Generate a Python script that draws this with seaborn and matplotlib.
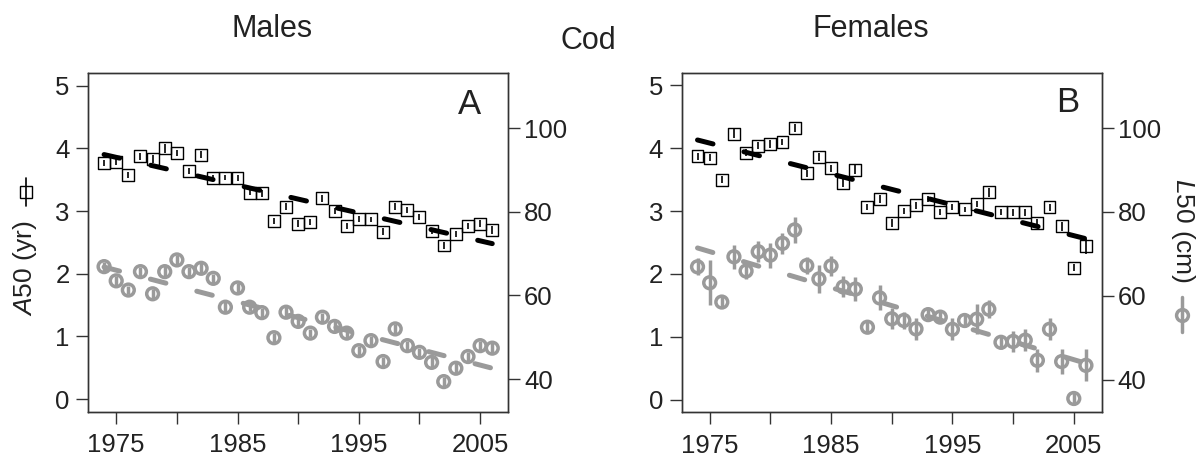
#Cod maturation reaction norm midpoints, males vs females (A50 and L50 by year)

import pandas as pd
import matplotlib
matplotlib.use("Agg")
import matplotlib.pyplot as plt
import seaborn as sns
from matplotlib.lines import Line2D

years = list(range(1974, 2007))

# males, panel A
male_a50 = [3.76, 3.78, 3.57, 3.87, 3.83, 4.00, 3.92, 3.64, 3.90, 3.53,
            3.53, 3.53, 3.29, 3.28, 2.84, 3.07, 2.80, 2.83, 3.20, 3.00,
            2.76, 2.87, 2.87, 2.67, 3.07, 3.02, 2.91, 2.68, 2.45, 2.63,
            2.76, 2.80, 2.70]
male_a50_err = [0.05, 0.05, 0.05, 0.05, 0.06, 0.07, 0.05, 0.05, 0.06, 0.05,
                0.04, 0.05, 0.04, 0.05, 0.05, 0.06, 0.05, 0.05, 0.06, 0.05,
                0.05, 0.05, 0.04, 0.06, 0.06, 0.05, 0.05, 0.05, 0.06, 0.05,
                0.05, 0.06, 0.06]
male_l50 = [66.9, 63.5, 61.3, 65.7, 60.4, 65.7, 68.5, 65.7, 66.5, 64.1,
            57.2, 61.8, 57.2, 55.9, 49.9, 56.0, 53.8, 51.0, 54.8, 52.6,
            51.0, 46.8, 49.2, 44.2, 52.0, 48.0, 46.4, 44.0, 39.4, 42.6,
            45.4, 48.0, 47.4]
male_l50_err = [1.0, 1.2, 1.0, 1.1, 1.2, 1.3, 1.2, 1.1, 1.2, 1.1,
                1.2, 1.1, 1.0, 1.2, 1.1, 1.2, 1.1, 1.0, 1.1, 1.2,
                1.1, 1.0, 1.2, 1.1, 1.2, 1.1, 1.0, 1.2, 1.1, 1.2,
                1.1, 1.2, 1.2]
male_a50_trend = [3.90, 2.48]
male_l50_trend = [66.8, 42.6]

# females, panel B
female_a50 = [3.87, 3.85, 3.50, 4.23, 3.93, 4.04, 4.07, 4.10, 4.32, 3.60,
              3.86, 3.68, 3.45, 3.66, 3.07, 3.19, 2.81, 3.00, 3.09, 3.19,
              2.99, 3.07, 3.03, 3.11, 3.30, 2.99, 2.98, 2.98, 2.81, 3.06,
              2.76, 2.10, 2.44]
female_a50_err = [0.06, 0.06, 0.05, 0.07, 0.06, 0.06, 0.06, 0.05, 0.07, 0.06,
                  0.06, 0.06, 0.06, 0.07, 0.05, 0.06, 0.06, 0.05, 0.05, 0.05,
                  0.05, 0.05, 0.04, 0.05, 0.07, 0.05, 0.06, 0.06, 0.06, 0.06,
                  0.07, 0.06, 0.12]
female_l50 = [66.9, 63.1, 58.5, 69.3, 65.9, 70.5, 69.7, 72.5, 75.7, 67.2,
              64.0, 67.1, 62.1, 61.6, 52.5, 59.5, 54.5, 54.1, 52.1, 55.5,
              54.9, 52.0, 54.1, 54.4, 56.8, 48.9, 49.1, 49.4, 44.6, 52.0,
              44.3, 35.5, 43.4]
female_l50_err = [2.0, 5.4, 1.5, 2.8, 2.0, 2.5, 3.0, 2.5, 3.0, 2.0,
                  3.4, 2.5, 2.5, 2.8, 1.5, 3.0, 2.5, 2.0, 2.6, 1.5,
                  1.5, 2.6, 1.5, 3.6, 2.2, 1.5, 2.6, 2.6, 2.8, 2.6,
                  3.0, 1.5, 3.8]
female_a50_trend = [4.13, 2.56]
female_l50_trend = [71.4, 43.9]

trend_years = [1974, 2006]

xticks = [1975, 1980, 1985, 1990, 1995, 2000, 2005]
xticklabels = ["1975", "", "1985", "", "1995", "", "2005"]
a_ticks = [0, 1, 2, 3, 4, 5]
l_ticks = [40, 60, 80, 100]

sns.set_style("ticks")
plt.rcParams['font.family'] = ['Liberation Sans', 'DejaVu Sans']
plt.rcParams['mathtext.fontset'] = 'custom'
plt.rcParams['mathtext.it'] = 'Liberation Sans:italic'
plt.rcParams['mathtext.rm'] = 'Liberation Sans'
plt.rcParams['lines.scale_dashes'] = False
plt.rcParams['axes.edgecolor'] = '#333333'
plt.rcParams['axes.linewidth'] = 1.0

GRAY = '#9a9a9a'
TXT = '#222222'
DASH = (0, (11.5, 23.0))


def style_axis(a):
    a.tick_params(axis='both', which='both', direction='out', length=8.5,
                  width=1.0, color='#333333', labelsize=18.5, labelcolor=TXT)


def draw_panel(ax, a50, a50_err, l50, l50_err, a_trend, l_trend, letter, lx, ly):
    ax2 = ax.twinx()

    df = pd.DataFrame({'year': years, 'a50': a50, 'a50_err': a50_err,
                       'l50': l50, 'l50_err': l50_err})
    tr = pd.DataFrame({'year': trend_years, 'a50': a_trend, 'l50': l_trend})

    # L50 (grey circles) on the right axis
    ax2.errorbar(df['year'], df['l50'], yerr=df['l50_err'], fmt='none',
                 ecolor=GRAY, elinewidth=2.5, capsize=0, zorder=2)
    sns.scatterplot(x='year', y='l50', data=df, ax=ax2, marker='o', s=72,
                    facecolor='none', edgecolor=GRAY, linewidth=2.5, zorder=3)
    sns.lineplot(x='year', y='l50', data=tr, ax=ax2, color=GRAY, linewidth=3.6,
                 linestyle=DASH, dash_capstyle='round', zorder=4)

    # A50 (black squares) on the left axis
    ax.set_zorder(ax2.get_zorder() + 1)
    ax.patch.set_visible(False)
    ax.errorbar(df['year'], df['a50'], yerr=df['a50_err'], fmt='none',
                ecolor='black', elinewidth=1.2, capsize=0, zorder=2)
    sns.scatterplot(x='year', y='a50', data=df, ax=ax, marker='s', s=74,
                    facecolor='none', edgecolor='black', linewidth=1.0, zorder=3)
    sns.lineplot(x='year', y='a50', data=tr, ax=ax, color='black', linewidth=3.6,
                 linestyle=DASH, dash_capstyle='round', zorder=4)

    ax.set_xlim(1972.7, 2007.3)
    ax.set_ylim(-0.2, 5.2)
    ax2.set_ylim(32.2, 113.2)
    ax.set_xticks(xticks)
    ax.set_xticklabels(xticklabels)
    ax.set_yticks(a_ticks)
    ax2.set_yticks(l_ticks)
    ax.set_xlabel("")
    ax.set_ylabel("")
    ax2.set_ylabel("")
    style_axis(ax)
    style_axis(ax2)
    ax.tick_params(axis='x', pad=7)
    ax.tick_params(axis='y', pad=5)
    ax2.tick_params(axis='y', pad=3)
    for s in ax2.spines.values():
        s.set_visible(True)
    ax.text(lx, ly, letter, transform=ax.transAxes, fontsize=25, color=TXT,
            ha='center', va='center')
    return ax2


fig = plt.figure(figsize=(12.03, 4.61), dpi=100)
ax_m = fig.add_axes([0.0734, 0.1069, 0.3489, 0.7347])
ax_f = fig.add_axes([0.5667, 0.1056, 0.3491, 0.7367])

draw_panel(ax_m, male_a50, male_a50_err, male_l50, male_l50_err,
           male_a50_trend, male_l50_trend, "A", 0.909, 0.906)
draw_panel(ax_f, female_a50, female_a50_err, female_l50, female_l50_err,
           female_a50_trend, female_l50_trend, "B", 0.92, 0.911)

fig.text(0.226, 0.937, "Males", fontsize=22, color=TXT, ha='center', va='center')
fig.text(0.724, 0.937, "Females", fontsize=22, color=TXT, ha='center', va='center')
fig.text(0.489, 0.91, "Cod", fontsize=22, color=TXT, ha='center', va='center')

# axis labels with their symbol keys
fig.text(25 / 1203, 1 - 268 / 461, r"$\mathit{A}$50 (yr)", fontsize=19, color=TXT,
         rotation=90, ha='center', va='center')
fig.add_artist(Line2D([26 / 1203, 26 / 1203], [1 - 178 / 461, 1 - 206 / 461],
                      transform=fig.transFigure, color='black', linewidth=1.2))
fig.add_artist(Line2D([26 / 1203], [1 - 192 / 461], transform=fig.transFigure,
                      marker='s', markersize=8.6, markerfacecolor='none',
                      markeredgecolor='black', markeredgewidth=1.0, linestyle='none'))

fig.text(1183 / 1203, 1 - 230 / 461, r"$\mathit{L}$50 (cm)", fontsize=19, color=TXT,
         rotation=-90, ha='center', va='center')
fig.add_artist(Line2D([1182 / 1203, 1182 / 1203], [1 - 297 / 461, 1 - 332 / 461],
                      transform=fig.transFigure, color=GRAY, linewidth=2.5))
fig.add_artist(Line2D([1182 / 1203], [1 - 315 / 461], transform=fig.transFigure,
                      marker='o', markersize=8.5, markerfacecolor='none',
                      markeredgecolor=GRAY, markeredgewidth=2.5, linestyle='none'))

fig.savefig("out.png", dpi=100)
